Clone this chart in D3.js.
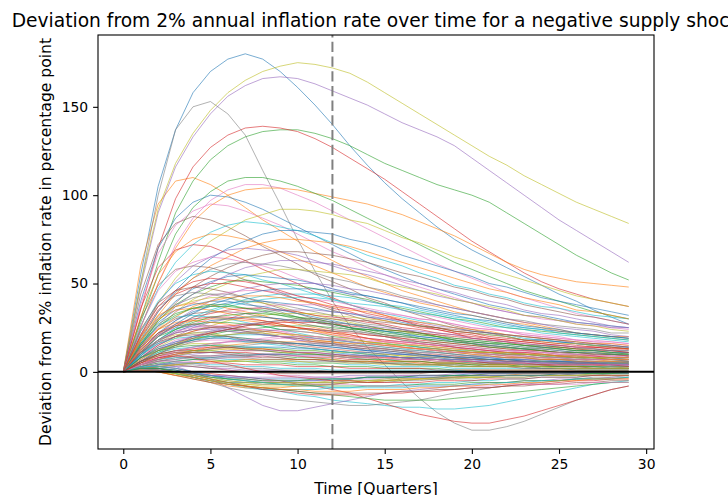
<!DOCTYPE html>
<html>
<head>
<meta charset="utf-8">
<script src="https://cdn.jsdelivr.net/npm/d3@7"></script>
<style>
  body { margin: 0; background: #fff; overflow: hidden; }
  text { font-family: "DejaVu Sans", sans-serif; fill: #000; }
</style>
</head>
<body>
<svg id="chart" width="728" height="495"></svg>
<script>
const quarters = [0,1,2,3,4,5,6,7,8,9,10,11,12,13,14,15,16,17,18,19,20,21,22,23,24,25,26,27,28,29];
const xTicks = [0,5,10,15,20,25,30];
const yTicks = [0,50,100,150];
const shockEnd = 12;

// simulated inflation deviation paths, one value per quarter
const inflationPaths = [
  [0,55,105,137,158,170,177,180,177,170,161,151,140,128,117,107,98,90,82,75,69,64,59,54,49,44,40,35,31,27],
  [0,60,95,108,110,106,100,93,86,80,74,68,63,58,54,50,46,43,40,37,34,32,30,28,26,24,22,21,20,19],
  [0,30,62,90,108,120,128,133,136,137,137,135,132,128,123,118,114,110,106,103,100,96,90,84,78,72,66,61,56,52],
  [0,35,70,98,116,127,134,138,139,138,136,132,127,121,115,109,102,95,88,81,74,68,62,56,51,47,44,41,39,37],
  [0,48,90,116,133,146,156,162,166,167,166,163,159,155,151,146,141,137,133,128,121,114,107,100,93,86,80,74,68,62],
  [0,30,49,58,60,59,56,52,49,45,41,38,35,32,29,26,24,22,20,18,16,15,14,13,12,11,11,10,10,9],
  [0,25,50,72,87,97,103,106,106,104,100,96,91,86,81,76,71,66,61,57,53,49,45,42,39,36,33,31,29,27],
  [0,50,100,137,150,153,146,134,114,95,75,57,40,26,14,4,-6,-15,-23,-29,-33,-33,-31,-28,-24,-20,-16,-13,-10,-8],
  [0,50,92,118,135,148,158,165,170,173,175,174,172,169,164,158,152,146,140,134,128,122,117,111,106,101,96,92,88,84],
  [0,2,2,0,-2,-4,-6,-8,-10,-11,-13,-14,-16,-17,-18,-19,-20,-20,-21,-21,-20,-19,-17,-15,-13,-11,-9,-7,-6,-5],
  [0,40,70,87,96,100,99,96,92,87,82,77,72,67,62,58,54,50,47,44,41,38,36,34,32,30,28,27,26,25],
  [0,25,50,70,85,94,100,103,104,104,103,101,99,97,95,92,89,85,81,77,72,67,62,58,55,53,51,50,49,48],
  [0,28,55,78,93,102,108,110,110,108,105,101,97,92,87,82,77,72,67,62,58,54,50,46,43,40,37,34,32,30],
  [0,2,3,2,0,-1,-2,-3,-4,-5,-7,-8,-10,-12,-15,-18,-21,-24,-26,-28,-29,-29,-27,-25,-22,-19,-16,-13,-10,-8],
  [0,3,5,3,0,-4,-9,-14,-19,-22,-22,-20,-18,-16,-14,-12,-11,-10,-9,-8,-7,-6,-6,-5,-5,-4,-4,-4,-3,-3],
  [0,44,72,84,88,86,82,77,71,66,61,55,51,47,42,39,35,32,29,26,24,22,20,18,18,17,16,15,14,13],
  [0,38,67,83,91,95,94,91,87,83,78,73,68,64,59,55,51,48,45,42,39,36,34,32,30,29,27,26,25,24],
  [0,2,2,0,-3,-6,-9,-11,-13,-15,-16,-17,-18,-19,-19,-18,-17,-16,-14,-12,-11,-9,-8,-7,-6,-5,-4,-3,-3,-2],
  [0,20,39,53,64,74,80,86,89,92,92,91,89,86,84,80,76,73,69,65,62,58,55,52,49,46,43,41,39,37],
  [0,26,47,62,72,79,83,85,84,82,80,77,73,70,66,63,60,56,53,49,47,44,42,39,37,36,34,32,31,30],
  [0,18,34,46,56,64,70,74,78,80,80,79,78,75,73,70,66,63,60,57,54,50,48,45,42,40,38,36,34,32],
  [0,31,55,68,75,78,77,75,72,68,64,60,56,52,48,45,42,39,37,34,32,30,28,27,25,23,22,21,20,20],
  [0,1,1,-1,-3,-5,-7,-8,-9,-10,-11,-12,-13,-14,-15,-16,-16,-16,-16,-15,-14,-13,-12,-11,-10,-9,-8,-7,-6,-6],
  [0,36,59,69,72,71,67,63,58,54,50,45,42,38,35,32,29,26,24,22,19,18,17,15,14,14,13,12,12,11],
  [0,21,39,51,60,65,69,70,69,68,66,63,60,57,55,52,49,46,43,41,39,36,34,32,31,29,28,27,25,25],
  [0,15,29,39,48,54,59,63,66,68,68,67,66,64,62,59,56,54,51,48,46,43,41,38,36,34,32,31,29,27],
  [0,26,46,57,62,65,64,62,60,57,53,50,47,44,40,38,35,33,31,29,27,25,23,22,21,20,18,18,17,16],
  [0,19,34,45,53,58,61,62,61,60,58,56,53,51,48,46,43,41,38,36,34,32,30,29,27,26,25,24,22,22],
  [0,13,24,34,41,46,50,54,56,58,58,57,56,55,53,50,48,46,44,41,39,37,35,32,31,29,27,26,24,23],
  [0,23,40,50,55,57,56,55,52,50,47,44,41,38,35,33,31,29,27,25,23,22,21,19,18,17,16,15,15,14],
  [0,17,30,40,47,51,54,55,54,53,52,50,47,45,43,41,39,36,34,32,30,29,27,25,24,23,22,21,20,19],
  [0,17,32,44,53,60,65,70,73,75,75,74,73,71,68,65,62,59,56,53,50,47,45,42,40,38,35,34,32,30],
  [0,16,29,38,44,48,51,52,51,50,49,47,45,43,41,38,36,34,32,30,29,27,25,24,23,22,21,20,19,18],
  [0,20,35,44,48,50,50,48,46,44,41,39,36,34,31,29,27,25,24,22,21,19,18,17,16,15,14,14,13,13],
  [0,11,21,29,35,40,44,47,49,50,50,50,49,47,46,44,42,40,38,36,34,32,30,28,27,25,24,23,21,20],
  [0,24,39,46,48,47,45,42,39,36,33,30,28,25,23,21,19,17,16,14,13,12,11,10,10,9,9,8,8,7],
  [0,14,25,34,39,43,45,46,46,45,43,41,40,38,36,34,32,30,29,27,25,24,23,21,20,19,18,17,17,16],
  [0,18,31,38,42,44,44,42,40,38,36,34,32,29,27,26,24,22,21,19,18,17,16,15,14,13,12,12,11,11],
  [0,17,29,37,40,42,42,40,39,37,34,32,30,28,26,24,23,21,20,18,17,16,15,14,13,13,12,11,11,10],
  [0,9,18,24,29,34,37,39,41,42,42,42,41,39,38,37,35,33,32,30,28,26,25,24,22,21,20,19,18,17],
  [0,12,22,29,34,37,39,40,40,39,38,36,34,33,31,30,28,26,25,23,22,21,20,18,18,17,16,15,14,14],
  [0,20,32,37,39,38,36,34,32,29,27,25,23,21,19,17,16,14,13,12,11,10,9,8,8,7,7,7,6,6],
  [0,15,26,32,36,37,37,36,34,32,30,28,27,25,23,21,20,19,17,16,15,14,13,13,12,11,10,10,10,9],
  [0,11,20,26,31,33,35,36,36,35,34,32,31,30,28,27,25,24,22,21,20,19,18,17,16,15,14,14,13,13],
  [0,8,15,20,25,28,30,33,34,35,35,35,34,33,32,30,29,28,26,25,23,22,21,20,19,18,16,16,15,14],
  [0,14,24,30,33,34,34,33,31,30,28,26,24,23,21,20,18,17,16,15,14,13,12,12,11,10,10,9,9,9],
  [0,8,16,22,27,30,33,35,37,38,38,38,37,36,35,33,32,30,29,27,25,24,23,21,20,19,18,17,16,15],
  [0,23,37,43,45,44,42,39,36,34,31,28,26,24,22,20,18,16,15,14,12,11,10,10,9,9,8,8,7,7],
  [0,7,14,19,23,26,29,31,32,33,33,33,32,31,30,29,27,26,25,23,22,21,20,18,17,16,16,15,14,13],
  [0,16,26,31,32,31,30,28,26,24,22,20,19,17,15,14,13,12,11,10,9,8,7,7,6,6,6,5,5,5],
  [0,9,17,23,26,29,30,31,31,30,29,28,27,25,24,23,22,20,19,18,17,16,15,14,14,13,12,12,11,11],
  [0,12,21,26,29,30,30,29,28,26,25,23,22,20,19,17,16,15,14,13,12,11,11,10,10,9,8,8,8,8],
  [0,11,20,24,27,28,28,27,26,24,23,22,20,19,17,16,15,14,13,12,11,11,10,10,9,8,8,8,7,7],
  [0,8,15,20,23,25,26,27,27,26,25,24,23,22,21,20,19,18,17,16,15,14,13,12,12,11,11,10,10,9],
  [0,13,21,25,26,25,24,23,21,20,18,16,15,14,12,11,10,9,9,8,7,7,6,5,5,5,5,4,4,4],
  [0,10,18,22,24,25,25,24,23,22,21,19,18,17,16,15,14,13,12,11,10,10,9,9,8,8,7,7,7,6],
  [0,7,13,18,20,22,24,24,24,23,23,22,21,20,19,18,17,16,15,14,13,12,12,11,11,10,10,9,9,8],
  [0,9,16,20,22,23,23,22,21,20,19,18,17,16,14,13,12,12,11,10,9,9,8,8,7,7,6,6,6,6],
  [0,11,18,21,22,22,20,19,18,17,15,14,13,12,11,10,9,8,7,7,6,5,5,5,4,4,4,4,4,3],
  [0,6,12,15,18,20,21,21,21,20,20,19,18,17,16,16,15,14,13,12,12,11,10,10,9,9,8,8,8,7],
  [0,8,14,17,19,20,20,19,18,17,16,15,14,13,12,12,11,10,9,9,8,8,7,7,6,6,6,5,5,5],
  [0,15,24,28,29,28,27,25,23,22,20,18,17,15,14,13,12,10,10,9,8,7,7,6,6,6,5,5,5,4],
  [0,6,11,15,18,21,23,24,25,26,26,26,25,24,24,23,22,21,20,18,17,16,16,15,14,13,12,12,11,10],
  [0,6,12,16,20,22,24,26,27,28,28,28,27,26,25,24,23,22,21,20,19,18,17,16,15,14,13,13,12,11],
  [0,11,18,22,24,24,23,22,21,20,18,17,16,15,14,13,12,11,10,9,9,8,8,7,7,6,6,6,5,5],
  [0,11,17,20,21,21,20,18,17,16,14,13,12,11,10,9,8,8,7,6,6,5,5,4,4,4,4,4,3,3],
  [0,7,13,16,17,18,18,17,17,16,15,14,13,12,11,10,10,9,8,8,7,7,6,6,6,5,5,5,5,5],
  [0,5,9,12,14,16,17,17,17,16,16,15,15,14,13,13,12,11,11,10,9,9,8,8,7,7,7,6,6,6],
  [0,8,13,15,16,16,15,14,13,12,11,10,9,8,8,7,6,6,5,5,4,4,4,3,3,3,3,3,3,2],
  [0,6,11,13,14,15,15,14,14,13,12,12,11,10,9,9,8,8,7,7,6,6,5,5,5,5,4,4,4,4],
  [0,4,8,10,12,13,14,14,14,14,13,13,12,11,11,10,10,9,9,8,8,7,7,6,6,6,6,5,5,5],
  [0,5,9,11,12,13,13,12,12,11,11,10,9,9,8,8,7,7,6,6,5,5,5,4,4,4,4,4,3,3],
  [0,6,10,12,12,12,11,10,10,9,8,8,7,6,6,5,5,4,4,4,3,3,3,3,2,2,2,2,2,2],
  [0,4,8,10,11,11,11,11,10,10,9,8,8,7,7,6,6,6,5,5,5,4,4,4,4,3,3,3,3,3],
  [0,3,6,7,9,9,10,10,10,10,9,9,9,8,8,7,7,7,6,6,6,5,5,5,4,4,4,4,4,4],
  [0,4,6,8,9,9,9,9,8,8,7,7,6,6,6,5,5,5,4,4,4,3,3,3,3,3,3,2,2,2],
  [0,4,8,11,13,15,17,18,18,19,19,19,18,18,17,17,16,15,14,13,13,12,11,11,10,10,9,9,8,8],
  [0,4,7,9,11,13,14,15,16,16,16,16,16,15,15,14,13,13,12,11,11,10,10,9,8,8,8,7,7,6],
  [0,4,7,9,11,12,13,13,13,13,12,12,11,11,10,10,9,9,8,8,7,7,6,6,6,5,5,5,5,5],
  [0,4,7,8,8,8,7,7,6,6,5,5,5,4,4,3,3,3,3,2,2,2,2,2,2,2,1,1,1,1],
  [0,2,4,6,7,8,9,9,10,10,10,10,10,9,9,9,8,8,8,7,7,6,6,6,5,5,5,5,4,4],
  [0,2,3,4,5,6,6,7,7,7,7,7,7,6,6,6,6,5,5,5,5,4,4,4,4,4,3,3,3,3],
  [0,3,5,6,7,7,6,6,5,5,4,4,3,3,3,2,2,2,2,1,1,1,1,1,1,1,1,1,1,1],
  [0,2,4,5,5,5,5,4,4,4,3,3,3,2,2,2,2,2,1,1,1,1,1,1,1,1,1,1,1,1],
  [0,2,3,3,3,2,2,1,1,1,0,0,0,0,0,0,0,0,0,0,0,0,0,0,0,0,0,0,0,0],
  [0,3,4,4,3,2,1,0,0,-1,-1,-1,-1,-1,-1,-1,-1,-1,0,0,0,0,0,0,0,0,0,0,0,0],
  [0,4,6,6,5,3,1,0,-1,-2,-2,-3,-3,-3,-3,-3,-2,-2,-2,-2,-2,-1,-1,-1,-1,-1,-1,-1,0,0],
  [0,2,3,4,4,3,3,2,2,1,1,1,0,0,0,0,0,0,0,0,0,0,0,0,0,0,0,0,0,0],
  [0,2,2,0,-2,-4,-6,-7,-8,-8,-8,-7,-7,-6,-6,-5,-5,-4,-4,-3,-3,-3,-2,-2,-2,-1,-1,-1,-1,-1],
  [0,1,1,-1,-3,-5,-7,-9,-10,-10,-10,-10,-9,-9,-8,-8,-7,-7,-6,-6,-5,-5,-4,-4,-3,-3,-3,-2,-2,-2],
  [0,2,1,-1,-3,-5,-6,-6,-6,-6,-5,-5,-4,-4,-3,-3,-3,-2,-2,-2,-1,-1,-1,-1,-1,-1,0,0,0,0],
  [0,1,0,-2,-4,-6,-8,-9,-9,-9,-8,-8,-7,-6,-6,-5,-4,-4,-3,-3,-2,-2,-2,-1,-1,-1,-1,-1,0,0],
  [0,2,2,1,-1,-2,-4,-5,-6,-7,-7,-8,-8,-8,-8,-8,-8,-7,-7,-7,-6,-6,-6,-5,-5,-5,-4,-4,-4,-3],
  [0,1,1,0,-2,-4,-6,-8,-10,-11,-12,-13,-13,-13,-13,-12,-12,-11,-11,-10,-9,-9,-8,-7,-7,-6,-5,-5,-4,-4],
  [0,2,3,2,0,-2,-3,-4,-5,-5,-5,-5,-5,-4,-4,-4,-3,-3,-3,-3,-2,-2,-2,-2,-2,-2,-1,-1,-1,-1],
  [0,1,0,-2,-4,-6,-7,-8,-9,-10,-11,-12,-12,-12,-12,-12,-11,-11,-10,-10,-9,-9,-8,-8,-7,-7,-6,-6,-5,-5],
  [0,1,1,0,-1,-2,-3,-4,-5,-6,-6,-7,-7,-7,-8,-8,-8,-8,-8,-8,-8,-8,-7,-7,-7,-7,-7,-6,-6,-6],
  [0,2,2,1,-1,-3,-4,-5,-6,-6,-6,-6,-6,-5,-5,-5,-4,-4,-4,-3,-3,-3,-2,-2,-2,-2,-1,-1,-1,-1],
  [0,1,0,-1,-3,-5,-6,-7,-7,-7,-7,-6,-6,-6,-5,-5,-5,-4,-4,-4,-3,-3,-3,-3,-2,-2,-2,-2,-2,-2],
  [0,9,18,25,31,35,38,41,43,44,44,44,43,42,40,38,37,35,33,31,30,28,26,25,24,22,21,20,19,18],
  [0,16,28,35,38,40,40,38,37,35,33,31,29,27,25,23,21,20,19,17,16,15,14,13,13,12,11,11,10,10],
  [0,18,30,35,36,35,33,31,29,27,25,23,21,19,17,16,14,13,12,11,10,9,8,8,7,7,6,6,6,5],
  [0,10,18,24,28,31,32,33,33,32,31,30,28,27,26,24,23,22,20,19,18,17,16,15,15,14,13,13,12,12],
  [0,12,22,27,30,31,31,30,29,27,25,24,22,21,19,18,17,16,15,14,13,12,11,11,10,9,9,9,8,8],
  [0,6,12,17,20,23,25,27,28,29,29,29,28,27,26,25,24,23,22,21,19,18,17,16,15,15,14,13,12,12],
  [0,14,22,26,27,26,25,23,22,20,19,17,16,14,13,12,11,10,9,8,7,7,6,6,5,5,5,5,4,4],
  [0,10,18,23,25,26,26,25,24,23,21,20,19,17,16,15,14,13,12,11,11,10,9,9,8,8,7,7,7,7],
  [0,5,10,14,17,19,21,22,23,24,24,24,23,23,22,21,20,19,18,17,16,15,14,13,13,12,11,11,10,10],
  [0,7,12,16,19,20,21,22,22,21,21,20,19,18,17,16,15,15,14,13,12,11,11,10,10,9,9,8,8,8],
  [0,10,16,19,20,20,19,17,16,15,14,13,12,11,10,9,8,7,7,6,5,5,5,4,4,4,4,3,3,3],
  [0,8,13,16,18,19,19,18,17,17,16,15,14,13,12,11,10,10,9,8,8,7,7,6,6,6,5,5,5,5],
  [0,4,7,10,12,14,15,16,17,17,17,17,17,16,16,15,14,13,13,12,11,11,10,10,9,9,8,8,7,7],
  [0,8,12,14,15,15,14,13,12,11,10,10,9,8,7,7,6,6,5,5,4,4,4,3,3,3,3,3,2,2],
  [0,6,10,12,13,14,14,13,13,12,11,11,10,9,9,8,8,7,7,6,6,5,5,5,4,4,4,4,4,3],
  [0,4,7,9,10,11,12,12,12,12,11,11,10,10,9,9,8,8,7,7,7,6,6,6,5,5,5,5,4,4],
  [0,6,9,11,11,11,10,9,9,8,7,7,6,6,5,5,4,4,4,3,3,3,3,2,2,2,2,2,2,2],
  [0,2,4,5,6,7,8,8,9,9,9,9,9,8,8,8,7,7,7,6,6,6,5,5,5,4,4,4,4,4],
  [0,3,6,7,8,8,8,8,7,7,6,6,6,5,5,5,4,4,4,3,3,3,3,3,2,2,2,2,2,2],
  [0,2,3,4,5,6,6,6,6,6,6,5,5,5,5,4,4,4,4,3,3,3,3,3,3,2,2,2,2,2],
  [0,2,4,5,5,4,4,3,3,2,2,2,1,1,1,1,1,1,1,1,0,0,0,0,0,0,0,0,0,0],
  [0,10,20,27,33,38,41,44,46,47,47,47,46,44,43,41,39,37,35,33,32,30,28,26,25,24,22,21,20,19],
  [0,13,24,31,37,40,42,43,43,42,40,39,37,35,34,32,30,28,27,25,24,23,21,20,19,18,17,16,16,15],
  [0,15,27,33,36,38,38,36,35,33,31,29,27,25,24,22,21,19,18,17,16,14,14,13,12,11,11,10,10,10],
  [0,21,37,46,51,53,52,51,49,46,43,41,38,36,33,31,29,27,25,23,22,20,19,18,17,16,15,14,14,13],
  [0,14,26,37,44,50,55,59,61,63,63,62,61,59,57,55,52,50,47,45,42,40,38,35,33,32,30,28,26,25],
  [0,5,10,15,19,22,24,26,28,29,30,30,30,29,29,28,27,26,25,24,23,22,21,20,19,18,17,16,15,14],
  [0,4,8,12,14,16,17,18,19,20,20,20,19,19,18,17,17,16,15,15,14,13,12,12,11,11,10,10,9,9],
  [0,2,1,0,-2,-3,-5,-6,-7,-7,-7,-7,-7,-6,-6,-6,-5,-5,-4,-4,-4,-3,-3,-3,-2,-2,-2,-2,-1,-1],
  [0,1,1,-1,-2,-4,-5,-6,-6,-6,-6,-6,-5,-5,-5,-4,-4,-4,-3,-3,-3,-3,-2,-2,-2,-2,-2,-1,-1,-1],
  [0,3,3,2,0,-2,-4,-5,-6,-7,-8,-8,-9,-9,-9,-9,-9,-8,-8,-8,-7,-7,-6,-6,-5,-5,-4,-4,-4,-3],
  [0,2,2,1,-1,-2,-3,-3,-4,-4,-4,-4,-4,-4,-3,-3,-3,-3,-3,-2,-2,-2,-2,-2,-2,-1,-1,-1,-1,-1],
  [0,1,0,-2,-3,-5,-7,-8,-9,-10,-10,-11,-11,-11,-10,-10,-10,-9,-9,-8,-8,-7,-7,-6,-6,-5,-5,-4,-4,-4],
  [0,2,2,0,-1,-3,-4,-4,-5,-5,-5,-4,-4,-4,-3,-3,-3,-2,-2,-2,-2,-1,-1,-1,-1,-1,-1,-1,-1,0],
  [0,5,8,9,8,6,4,2,0,-2,-3,-4,-5,-5,-6,-6,-6,-6,-5,-5,-5,-4,-4,-4,-3,-3,-3,-2,-2,-2],
  [0,1,1,0,-1,-2,-2,-3,-3,-3,-3,-3,-3,-2,-2,-2,-2,-2,-2,-1,-1,-1,-1,-1,-1,-1,-1,0,0,0]
];

const plot = { left: 98, right: 654, top: 35, bottom: 449 };

const svg = d3.select("#chart");

// matplotlib-like 5% margins around the data
const xExt = d3.extent(quarters);
const xPad = (xExt[1] - xExt[0]) * 0.05;
const yExt = d3.extent(inflationPaths.flat());
const yPad = (yExt[1] - yExt[0]) * 0.05;

const x = d3.scaleLinear()
  .domain([xExt[0] - xPad, xExt[1] + xPad])
  .range([plot.left, plot.right]);
const y = d3.scaleLinear()
  .domain([yExt[0] - yPad, yExt[1] + yPad])
  .range([plot.bottom, plot.top]);

const color = d3.scaleOrdinal().domain(d3.range(10)).range(d3.schemeCategory10);

svg.append("defs").append("clipPath").attr("id", "plotclip")
  .append("rect")
  .attr("x", plot.left).attr("y", plot.top)
  .attr("width", plot.right - plot.left).attr("height", plot.bottom - plot.top);

const line = d3.line()
  .x((d, i) => x(quarters[i]))
  .y((d) => y(d));

svg.append("g")
  .attr("clip-path", "url(#plotclip)")
  .selectAll("path")
  .data(inflationPaths)
  .join("path")
  .attr("d", line)
  .attr("fill", "none")
  .attr("stroke", (d, i) => color(i % 10))
  .attr("stroke-width", 1)
  .attr("stroke-opacity", 0.6);

// end of shock (dashed) and zero line
svg.append("line")
  .attr("x1", x(shockEnd)).attr("x2", x(shockEnd))
  .attr("y1", plot.bottom).attr("y2", plot.top)
  .attr("stroke", "#808080")
  .attr("stroke-width", 2)
  .attr("stroke-dasharray", "10.3,4.4");

svg.append("line")
  .attr("x1", plot.left).attr("x2", plot.right)
  .attr("y1", y(0)).attr("y2", y(0))
  .attr("stroke", "#000")
  .attr("stroke-width", 2);

// axes
const xAxis = svg.append("g")
  .attr("transform", `translate(0,${plot.bottom})`)
  .call(d3.axisBottom(x).tickValues(xTicks).tickSize(4.9).tickPadding(4.9).tickSizeOuter(0));
const yAxis = svg.append("g")
  .attr("transform", `translate(${plot.left},0)`)
  .call(d3.axisLeft(y).tickValues(yTicks).tickSize(4.9).tickPadding(4.9).tickSizeOuter(0));

[xAxis, yAxis].forEach((a) => {
  a.select(".domain").remove();
  a.selectAll(".tick line").attr("stroke", "#000").attr("stroke-width", 1.1);
  a.selectAll(".tick text")
    .attr("fill", "#000")
    .style("font-family", "DejaVu Sans, sans-serif")
    .style("font-size", "13.9px");
});

svg.append("rect")
  .attr("x", plot.left).attr("y", plot.top)
  .attr("width", plot.right - plot.left).attr("height", plot.bottom - plot.top)
  .attr("fill", "none")
  .attr("stroke", "#000")
  .attr("stroke-width", 1.1);

svg.append("text")
  .attr("x", (plot.left + plot.right) / 2)
  .attr("y", 27)
  .attr("text-anchor", "middle")
  .style("font-size", "18.67px")
  .text("Deviation from 2% annual inflation rate over time for a negative supply shock");

svg.append("text")
  .attr("x", (plot.left + plot.right) / 2)
  .attr("y", 494)
  .attr("text-anchor", "middle")
  .style("font-size", "15.6px")
  .text("Time [Quarters]");

svg.append("text")
  .attr("transform", `translate(51,${(plot.top + plot.bottom) / 2}) rotate(-90)`)
  .attr("text-anchor", "middle")
  .style("font-size", "15.6px")
  .text("Deviation from 2% inflation rate in percentage point");
</script>
</body>
</html>
